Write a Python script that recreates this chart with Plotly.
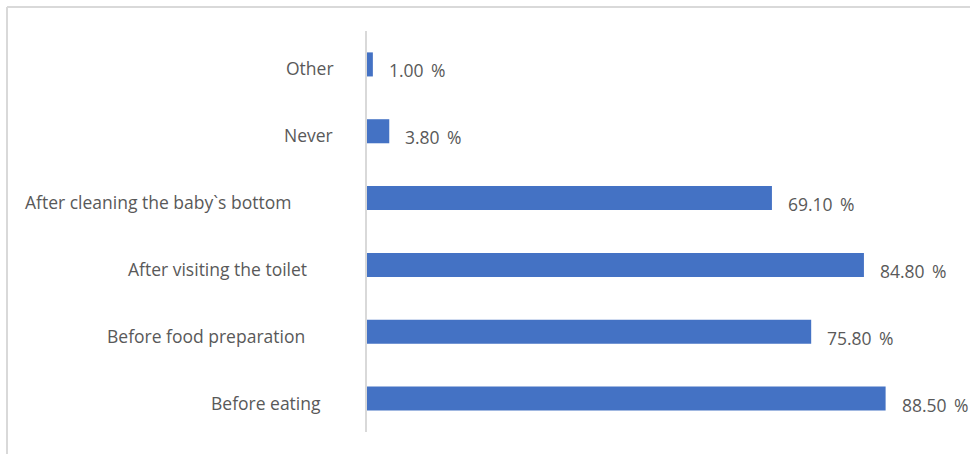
import plotly.graph_objects as go

# Hand-washing occasions, bottom to top
categories = [
    "Before eating",
    "Before food preparation",
    "After visiting the toilet",
    "After cleaning the baby`s bottom",
    "Never",
    "Other",
]
percentages = [88.5, 75.8, 84.8, 69.1, 3.8, 1.0]

# Gap (px) between the axis line and the right edge of each category label
label_gaps = [44, 60, 58, 74, 32, 31]

W, H = 970, 454
ML, MR, MT, MB = 367, 17, 31, 22
plot_w = W - ML - MR
plot_h = H - MT - MB

FONT = "Open Sans"
FONT_SIZE = 17.5
TEXT_COLOR = "#595959"
GRID = "#d9d9d9"

fig = go.Figure(
    go.Bar(
        y=categories,
        x=percentages,
        orientation="h",
        marker=dict(color="#4472c4", line=dict(width=0)),
        hoverinfo="skip",
    )
)

annotations = []
# value labels to the right of each bar
for cat, v in zip(categories, percentages):
    annotations.append(dict(
        x=v, y=cat, xref="x", yref="y",
        text=f"{v:.2f}\u00a0\u2009%", showarrow=False,
        xanchor="left", yanchor="middle",
        xshift=14, yshift=-6,
        font=dict(family=FONT, size=FONT_SIZE, color=TEXT_COLOR),
    ))
# category labels to the left of the axis
for cat, gap in zip(categories, label_gaps):
    annotations.append(dict(
        x=0, y=cat, xref="paper", yref="y",
        text=cat, showarrow=False,
        xanchor="right", yanchor="middle",
        xshift=-gap, yshift=-4,
        font=dict(family=FONT, size=FONT_SIZE, color=TEXT_COLOR),
    ))

# light frame along the top and left edges
left_x = (7 - ML) / plot_w
top_y = 1 + (MT - 7) / plot_h
shapes = [
    dict(type="line", xref="paper", yref="paper",
         x0=left_x, x1=left_x, y0=top_y, y1=-1,
         line=dict(color=GRID, width=2)),
    dict(type="line", xref="paper", yref="paper",
         x0=left_x, x1=2, y0=top_y, y1=top_y,
         line=dict(color=GRID, width=2)),
]

fig.update_layout(
    width=W, height=H,
    margin=dict(l=ML, r=MR, t=MT, b=MB, pad=0),
    paper_bgcolor="white", plot_bgcolor="white",
    bargap=0.64,
    showlegend=False,
    annotations=annotations,
    shapes=shapes,
    xaxis=dict(range=[0, 100], showgrid=False, zeroline=False,
               showticklabels=False, showline=False, fixedrange=True),
    yaxis=dict(categoryorder="array", categoryarray=categories,
               showgrid=False, zeroline=False, showticklabels=False,
               showline=True, linecolor=GRID, linewidth=2,
               ticks="", fixedrange=True),
)

fig.write_html("out.html", config={"displayModeBar": False})
